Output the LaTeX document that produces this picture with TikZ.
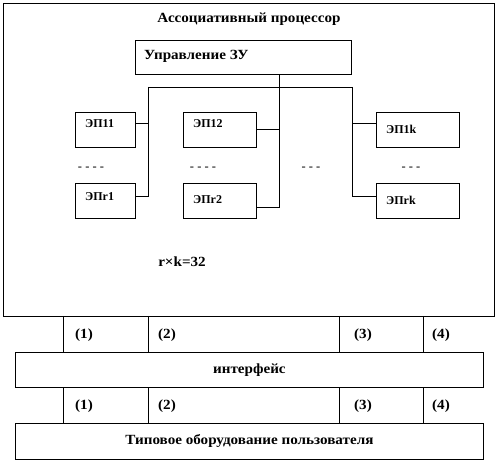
\documentclass[tikz,border=0pt]{standalone}
\usepackage{fontspec}
\setmainfont{Liberation Serif}
\newfontfamily\widef[FakeStretch=1.08]{Liberation Serif}
\begin{document}
\begin{tikzpicture}[x=1pt,y=-1pt,
  lbl/.style={font=\widef\fontsize{14}{15}\selectfont\bfseries, inner sep=0pt},
  eplbl/.style={font=\fontsize{12}{13}\selectfont\bfseries, inner sep=0pt, anchor=west},
  dots/.style={font=\fontsize{12.5}{13}\selectfont, inner sep=0pt},
  boxs/.style={draw, line width=0.8pt, inner sep=0pt, anchor=north west},
  ep/.style={boxs, minimum width=60pt, minimum height=35pt},
  ln/.style={line width=0.8pt}]
\useasboundingbox (0,0) rectangle (498,462);
\fill[white] (0,0) rectangle (498,462);
% outer box
\node[boxs, minimum width=491pt, minimum height=313pt] (proc) at (3,3) {};
\node[lbl] (title) at (249,19) {Ассоциативный процессор};
% control
\node[boxs, minimum width=216pt, minimum height=34pt] (upr) at (135,40) {};
\node[lbl, anchor=west] (uprt) at (144,56) {Управление ЗУ};
% EP boxes
\node[ep] (e11) at (75,112) {};
\node[eplbl] (t11) at (85,124) {ЭП11};
\node[ep] (er1) at (75,183) {};
\node[eplbl] (tr1) at (85,197) {ЭПr1};
\node[ep, minimum width=73pt] (e12) at (183,112) {};
\node[eplbl] (t12) at (193,124) {ЭП12};
\node[ep, minimum width=73pt] (er2) at (183,183) {};
\node[eplbl] (tr2) at (193,200) {ЭПr2};
\node[ep, minimum width=83pt] (e1k) at (376,112) {};
\node[eplbl] (t1k) at (386,129) {ЭП1k};
\node[ep, minimum width=83pt] (erk) at (376,183) {};
\node[eplbl] (trk) at (386,200) {ЭПrk};
% bus
\coordinate (bl) at (148,87);
\coordinate (br) at (352,87);
\coordinate (bm) at (279,87);
\draw[ln] (bl) -- (br);
\draw[ln] (upr.south -| bm) -- (bm);
\draw[ln] (bm) -- (279,207) -- (er2.east |- 0,207);
\draw[ln] (e12.east) -- (e12.east -| bm);
\draw[ln] (bl) -- (148,196) -- (er1.east |- 0,196);
\draw[ln] (e11.east |- 0,123) -- (148,123);
\draw[ln] (br) -- (352,196) -- (erk.west |- 0,196);
\draw[ln] (352,123) -- (e1k.west |- 0,123);
% dots
\node[dots] (d1) at (91,169) {- - - -};
\node[dots] (d2) at (203,169) {- - - -};
\node[dots] (d3) at (311,169) {- - -};
\node[dots] (d4) at (411,169) {- - -};
\node[lbl] (rk) at (182,262) {r×k=32};
% interface
\node[boxs, minimum width=468pt, minimum height=35pt] (intf) at (15,352) {};
\node[lbl] (intft) at (intf.center) {интерфейс};
\node[boxs, minimum width=468pt, minimum height=36pt] (user) at (15,423) {};
\node[lbl] (usert) at (user.center) {Типовое оборудование пользователя};
% links
\foreach \x in {63,148,339,423} {
  \draw[ln] (\x,316) -- (\x,352);
  \draw[ln] (\x,387) -- (\x,423);
}
\foreach \x/\t in {84/(1),167/(2),363/(3),441/(4)} {
  \node[lbl] at (\x,335) {\t};
  \node[lbl] at (\x,406) {\t};
}
\end{tikzpicture}
\end{document}
